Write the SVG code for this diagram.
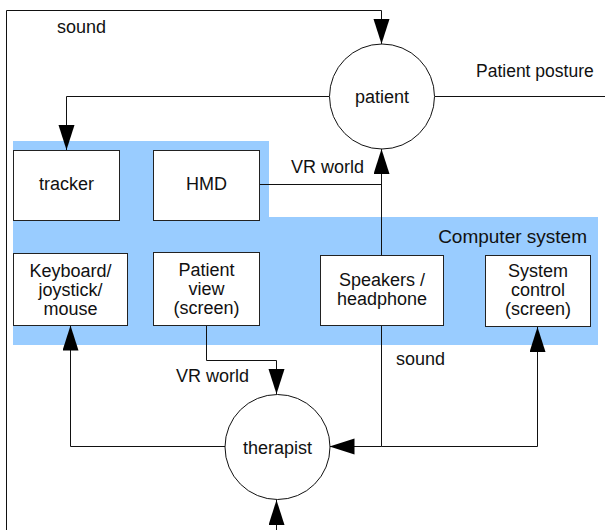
<svg xmlns="http://www.w3.org/2000/svg" width="605" height="530" viewBox="0 0 605 530">
<style>
.bg{fill:#fff}
.sys{fill:#99ccff}
.box{fill:#fff;stroke:#222;stroke-width:1}
.ell{fill:#fff;stroke:#111;stroke-width:1}
.c{fill:none;stroke:#111;stroke-width:1}
text{font-family:"Liberation Sans",Arial,sans-serif;font-size:18px;fill:#111}
.m{text-anchor:middle}
.e{text-anchor:end}
</style>
<defs>
<marker id="ah" markerUnits="userSpaceOnUse" markerWidth="26" markerHeight="18" refX="25" refY="8" orient="auto" viewBox="0 0 26 18">
<path d="M0,0 L25,8 L0,16 z" fill="#000"/>
</marker>
</defs>
<rect class="bg" x="0" y="0" width="605" height="530"/>
<polygon id="computer-system" class="sys" points="13,141 269,141 269,217 598,217 598,345 13,345"/>
<text class="e" x="587" y="243" style="font-size:19px">Computer system</text>

<g id="connectors">
<path class="c" d="M6.5,530 V10.5 H381.5 V44" marker-end="url(#ah)"/>
<path class="c" d="M329,96.5 H66.5 V150" marker-end="url(#ah)"/>
<path class="c" d="M435,96.5 H605"/>
<path class="c" d="M259,184.5 H381.5"/>
<path class="c" d="M381.5,255 V149" marker-end="url(#ah)"/>
<path class="c" d="M381.5,325.5 V446.5 H329.5" marker-end="url(#ah)"/>
<path class="c" d="M381.5,446.5 H537.5 V327" marker-end="url(#ah)"/>
<path class="c" d="M225,446.5 H70.5 V325.5" marker-end="url(#ah)"/>
<path class="c" d="M206.5,325.5 V360.5 H276.5 V394" marker-end="url(#ah)"/>
<path class="c" d="M276.5,530 V500" marker-end="url(#ah)"/>
<text x="57" y="33">sound</text>
<text x="476" y="77" style="font-size:17.5px">Patient posture</text>
<text x="291" y="173">VR world</text>
<text x="176" y="382">VR world</text>
<text x="396" y="365">sound</text>
</g>

<g id="patient">
<circle class="ell" cx="382" cy="96.5" r="52.5"/>
<text class="m" x="382" y="103">patient</text>
</g>
<g id="therapist">
<circle class="ell" cx="277.5" cy="447" r="52.5"/>
<text class="m" x="277.5" y="454">therapist</text>
</g>
<g id="tracker">
<rect class="box" x="13.5" y="150.5" width="106" height="70"/>
<text class="m" x="66.5" y="190">tracker</text>
</g>
<g id="hmd">
<rect class="box" x="153.5" y="150.5" width="106" height="70"/>
<text class="m" x="206.5" y="190">HMD</text>
</g>
<g id="keyboard">
<rect class="box" x="13.5" y="253.5" width="114" height="72"/>
<text class="m" x="70.5" y="277">Keyboard/</text>
<text class="m" x="70.5" y="296">joystick/</text>
<text class="m" x="70.5" y="315">mouse</text>
</g>
<g id="patient-view">
<rect class="box" x="153.5" y="252.5" width="106" height="73"/>
<text class="m" x="206.5" y="276">Patient</text>
<text class="m" x="206.5" y="295">view</text>
<text class="m" x="206.5" y="314">(screen)</text>
</g>
<g id="speakers">
<rect class="box" x="320.5" y="255.5" width="123" height="70"/>
<text class="m" x="382" y="286">Speakers /</text>
<text class="m" x="382" y="305">headphone</text>
</g>
<g id="system-control">
<rect class="box" x="485.5" y="255.5" width="105" height="71"/>
<text class="m" x="538" y="277">System</text>
<text class="m" x="538" y="296">control</text>
<text class="m" x="538" y="315">(screen)</text>
</g>
</svg>
